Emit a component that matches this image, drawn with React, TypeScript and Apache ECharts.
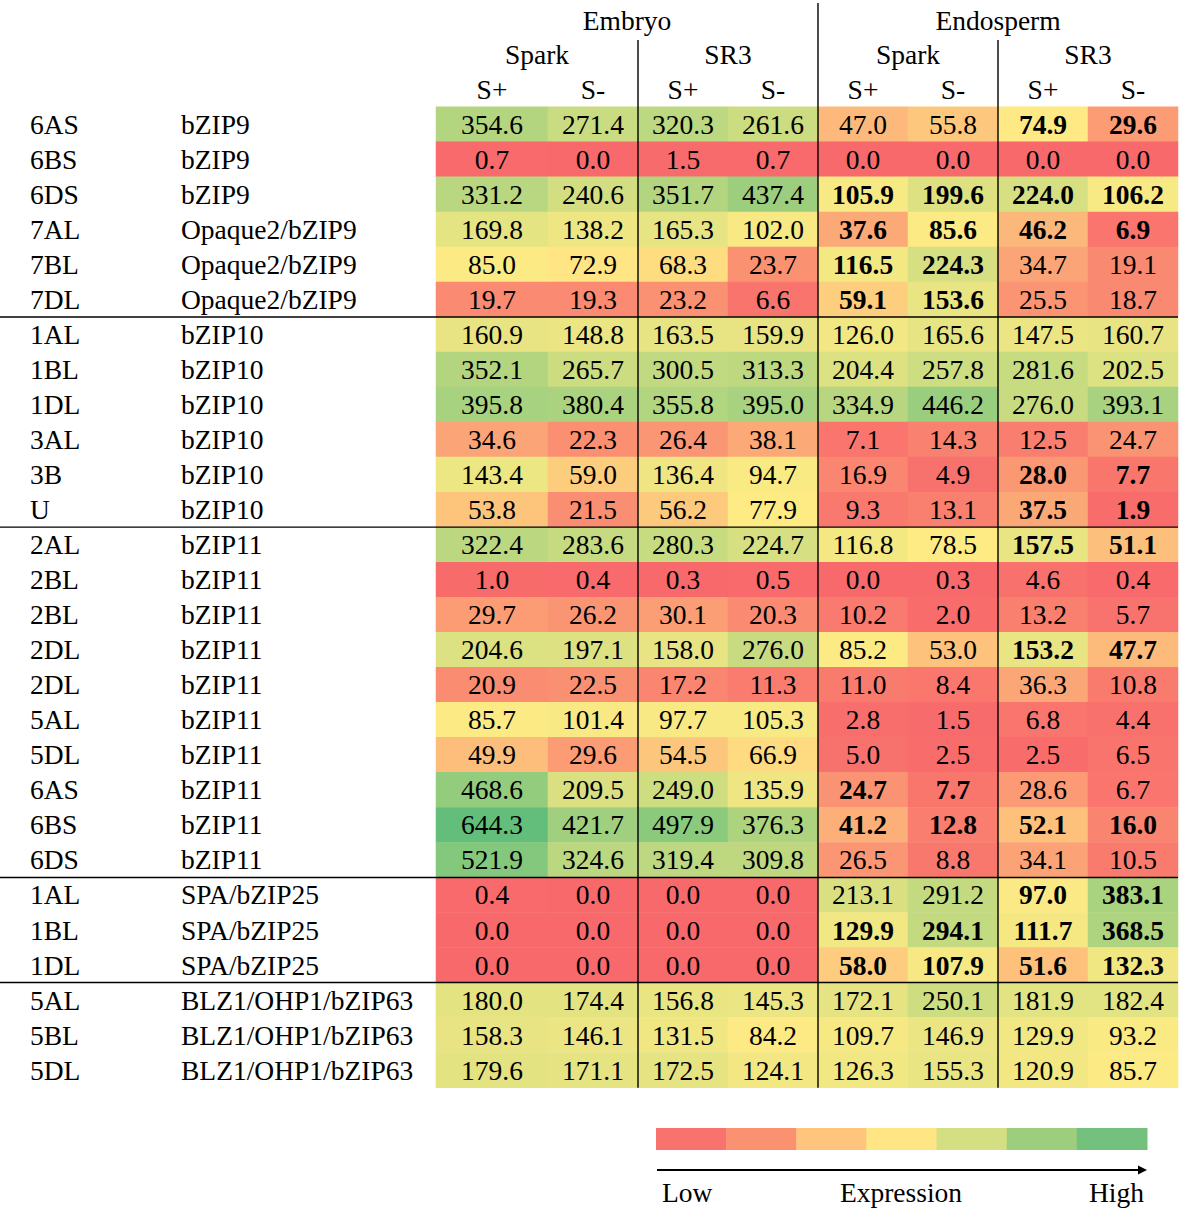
import React, { useEffect, useRef } from "react";
import * as echarts from "echarts";

const chromosomes = [
  "6AS", "6BS", "6DS", "7AL", "7BL", "7DL",
  "1AL", "1BL", "1DL", "3AL", "3B", "U",
  "2AL", "2BL", "2BL", "2DL", "2DL", "5AL", "5DL", "6AS", "6BS", "6DS",
  "1AL", "1BL", "1DL",
  "5AL", "5BL", "5DL",
];
const genes = [
  "bZIP9", "bZIP9", "bZIP9", "Opaque2/bZIP9", "Opaque2/bZIP9", "Opaque2/bZIP9",
  "bZIP10", "bZIP10", "bZIP10", "bZIP10", "bZIP10", "bZIP10",
  "bZIP11", "bZIP11", "bZIP11", "bZIP11", "bZIP11", "bZIP11", "bZIP11", "bZIP11", "bZIP11", "bZIP11",
  "SPA/bZIP25", "SPA/bZIP25", "SPA/bZIP25",
  "BLZ1/OHP1/bZIP63", "BLZ1/OHP1/bZIP63", "BLZ1/OHP1/bZIP63",
];
const tissues = ["Embryo", "Endosperm"];
const cultivars = ["Spark", "SR3", "Spark", "SR3"];
const treatments = ["S+", "S-", "S+", "S-", "S+", "S-", "S+", "S-"];

const expression: number[][] = [
  [354.6, 271.4, 320.3, 261.6, 47.0, 55.8, 74.9, 29.6],
  [0.7, 0.0, 1.5, 0.7, 0.0, 0.0, 0.0, 0.0],
  [331.2, 240.6, 351.7, 437.4, 105.9, 199.6, 224.0, 106.2],
  [169.8, 138.2, 165.3, 102.0, 37.6, 85.6, 46.2, 6.9],
  [85.0, 72.9, 68.3, 23.7, 116.5, 224.3, 34.7, 19.1],
  [19.7, 19.3, 23.2, 6.6, 59.1, 153.6, 25.5, 18.7],
  [160.9, 148.8, 163.5, 159.9, 126.0, 165.6, 147.5, 160.7],
  [352.1, 265.7, 300.5, 313.3, 204.4, 257.8, 281.6, 202.5],
  [395.8, 380.4, 355.8, 395.0, 334.9, 446.2, 276.0, 393.1],
  [34.6, 22.3, 26.4, 38.1, 7.1, 14.3, 12.5, 24.7],
  [143.4, 59.0, 136.4, 94.7, 16.9, 4.9, 28.0, 7.7],
  [53.8, 21.5, 56.2, 77.9, 9.3, 13.1, 37.5, 1.9],
  [322.4, 283.6, 280.3, 224.7, 116.8, 78.5, 157.5, 51.1],
  [1.0, 0.4, 0.3, 0.5, 0.0, 0.3, 4.6, 0.4],
  [29.7, 26.2, 30.1, 20.3, 10.2, 2.0, 13.2, 5.7],
  [204.6, 197.1, 158.0, 276.0, 85.2, 53.0, 153.2, 47.7],
  [20.9, 22.5, 17.2, 11.3, 11.0, 8.4, 36.3, 10.8],
  [85.7, 101.4, 97.7, 105.3, 2.8, 1.5, 6.8, 4.4],
  [49.9, 29.6, 54.5, 66.9, 5.0, 2.5, 2.5, 6.5],
  [468.6, 209.5, 249.0, 135.9, 24.7, 7.7, 28.6, 6.7],
  [644.3, 421.7, 497.9, 376.3, 41.2, 12.8, 52.1, 16.0],
  [521.9, 324.6, 319.4, 309.8, 26.5, 8.8, 34.1, 10.5],
  [0.4, 0.0, 0.0, 0.0, 213.1, 291.2, 97.0, 383.1],
  [0.0, 0.0, 0.0, 0.0, 129.9, 294.1, 111.7, 368.5],
  [0.0, 0.0, 0.0, 0.0, 58.0, 107.9, 51.6, 132.3],
  [180.0, 174.4, 156.8, 145.3, 172.1, 250.1, 181.9, 182.4],
  [158.3, 146.1, 131.5, 84.2, 109.7, 146.9, 129.9, 93.2],
  [179.6, 171.1, 172.5, 124.1, 126.3, 155.3, 120.9, 85.7],
];

// "1" marks a value printed in bold
const boldCells = [
  "00000011", "00000000", "00001111", "00001111", "00001100", "00001100",
  "00000000", "00000000", "00000000", "00000000", "00000011", "00000011",
  "00000011", "00000000", "00000000", "00000011", "00000000", "00000000",
  "00000000", "00001100", "00001111", "00000000",
  "00000011", "00001111", "00001111",
  "00000000", "00000000", "00000000",
];

// number of rows in each gene group (separators drawn between groups)
const groupSizes = [6, 6, 10, 3, 3];

// 3-colour scale: low / midpoint (median) / high
const scaleColors = ["#F8696B", "#FFEB84", "#63BE7B"];
const legendColors = ["#F8736E", "#FA9272", "#FFC57C", "#FFE584", "#D3DF82", "#9CCE7E", "#73C17C"];
const legendTexts = ["Low", "Expression", "High"];

const FONT = "'Liberation Serif', 'Times New Roman', serif";
const FS = 27.5;

function hexToRgb(h: string) {
  const n = parseInt(h.slice(1), 16);
  return [(n >> 16) & 255, (n >> 8) & 255, n & 255];
}
function lerpColor(a: string, b: string, t: number) {
  const ca = hexToRgb(a);
  const cb = hexToRgb(b);
  const c = ca.map((v, i) => Math.round(v + (cb[i] - v) * t));
  return `rgb(${c[0]},${c[1]},${c[2]})`;
}

export default function App() {
  const ref = useRef<HTMLDivElement>(null);

  useEffect(() => {
    if (!ref.current) return;
    const chart = echarts.init(ref.current, undefined, { renderer: "svg" });

    const nRows = chromosomes.length;
    const all = expression.flat().slice().sort((a, b) => a - b);
    const minV = all[0];
    const maxV = all[all.length - 1];
    const mid = all.length % 2 === 0
      ? (all[all.length / 2 - 1] + all[all.length / 2]) / 2
      : all[(all.length - 1) / 2];
    const N = 256;
    const palette: string[] = [];
    for (let i = 0; i < N; i++) {
      const v = minV + ((maxV - minV) * i) / (N - 1);
      if (v <= mid) palette.push(lerpColor(scaleColors[0], scaleColors[1], (v - minV) / (mid - minV)));
      else palette.push(lerpColor(scaleColors[1], scaleColors[2], (v - mid) / (maxV - mid)));
    }

    // layout
    const tableLeft = 436;
    const firstColW = 112;
    const colW = 90;
    const tableTop = 106.8;
    const rowH = 35.03;
    const tableH = rowH * nRows;
    const colEdge = (c: number) => (c === 0 ? tableLeft : tableLeft + firstColW + (c - 1) * colW);
    const tableRight = colEdge(treatments.length);

    const cellLabel = (bold: boolean) => ({
      show: true,
      fontFamily: FONT,
      fontSize: FS,
      color: "#000",
      fontWeight: bold ? "bold" : "normal",
      formatter: (p: any) => Number(p.value[2]).toFixed(1),
    });

    const dataFor = (cols: number[], offset: number) => {
      const out: any[] = [];
      expression.forEach((row, r) => {
        cols.forEach((c) => {
          out.push({ value: [c - offset, r, row[c]], label: cellLabel(boldCells[r][c] === "1") });
        });
      });
      return out;
    };

    const rowIds = chromosomes.map((_, i) => String(i));

    const graphics: any[] = [];
    // horizontal group separators
    let acc = 0;
    groupSizes.slice(0, -1).forEach((g) => {
      acc += g;
      const y = tableTop + acc * rowH;
      graphics.push({
        type: "line",
        shape: { x1: 0, y1: y, x2: tableRight, y2: y },
        style: { stroke: "#000", lineWidth: 1.4 },
        z: 100,
      });
    });
    // vertical separators
    [2, 4, 6].forEach((c) => {
      const x = colEdge(c);
      graphics.push({
        type: "line",
        shape: { x1: x, y1: c === 4 ? 3 : 40, x2: x, y2: tableTop + tableH },
        style: { stroke: "#000", lineWidth: 1.4 },
        z: 100,
      });
    });
    // tissue headers
    tissues.forEach((t, i) => {
      const x = (colEdge(i * 4) + colEdge(i * 4 + 4)) / 2;
      graphics.push({
        type: "text",
        x, y: 20,
        style: { text: t, font: `${FS}px ${FONT}`, fill: "#000", align: "center", verticalAlign: "middle" },
      });
    });
    // cultivar headers
    cultivars.forEach((t, i) => {
      const x = (colEdge(i * 2) + colEdge(i * 2 + 2)) / 2;
      graphics.push({
        type: "text",
        x, y: 54,
        style: { text: t, font: `${FS}px ${FONT}`, fill: "#000", align: "center", verticalAlign: "middle" },
      });
    });
    // legend colour blocks
    const legX = 656;
    const legW = 491;
    const bw = legW / legendColors.length;
    legendColors.forEach((c, i) => {
      graphics.push({
        type: "rect",
        shape: { x: legX + i * bw, y: 1128, width: bw + 0.5, height: 22 },
        style: { fill: c },
      });
    });
    graphics.push({
      type: "line",
      shape: { x1: legX + 1, y1: 1170, x2: legX + legW - 6, y2: 1170 },
      style: { stroke: "#000", lineWidth: 2 },
    });
    graphics.push({
      type: "polygon",
      shape: { points: [[legX + legW - 9, 1165.5], [legX + legW, 1170], [legX + legW - 9, 1174.5]] },
      style: { fill: "#000" },
    });
    graphics.push({
      type: "text", x: legX + 6, y: 1192,
      style: { text: legendTexts[0], font: `${FS}px ${FONT}`, fill: "#000", align: "left", verticalAlign: "middle" },
    });
    graphics.push({
      type: "text", x: 901, y: 1192,
      style: { text: legendTexts[1], font: `${FS}px ${FONT}`, fill: "#000", align: "center", verticalAlign: "middle" },
    });
    graphics.push({
      type: "text", x: legX + legW - 3, y: 1192,
      style: { text: legendTexts[2], font: `${FS}px ${FONT}`, fill: "#000", align: "right", verticalAlign: "middle" },
    });

    const xAxisCommon = {
      type: "category",
      position: "top",
      axisLine: { show: false },
      axisTick: { show: false },
      splitLine: { show: false },
      axisLabel: { interval: 0, fontFamily: FONT, fontSize: FS, color: "#000", margin: 3 },
    };

    chart.setOption({
      animation: false,
      backgroundColor: "#fff",
      grid: [
        { left: colEdge(0), top: tableTop, width: firstColW, height: tableH },
        { left: colEdge(1), top: tableTop, width: colW * (treatments.length - 1), height: tableH },
      ],
      xAxis: [
        { ...xAxisCommon, gridIndex: 0, data: treatments.slice(0, 1) },
        { ...xAxisCommon, gridIndex: 1, data: treatments.slice(1) },
      ],
      yAxis: [
        {
          type: "category",
          gridIndex: 0,
          data: rowIds,
          inverse: true,
          axisLine: { show: false },
          axisTick: { show: false },
          splitLine: { show: false },
          axisLabel: {
            interval: 0,
            align: "left",
            margin: colEdge(0) - 30,
            formatter: (_v: string, i: number) => `{a|${chromosomes[i]}}{b|${genes[i]}}`,
            rich: {
              a: { width: 151, fontFamily: FONT, fontSize: FS, color: "#000", align: "left" },
              b: { fontFamily: FONT, fontSize: FS, color: "#000", align: "left" },
            },
          },
        },
        {
          type: "category",
          gridIndex: 1,
          data: rowIds,
          inverse: true,
          show: false,
        },
      ],
      visualMap: {
        type: "continuous",
        show: false,
        min: minV,
        max: maxV,
        dimension: 2,
        seriesIndex: [0, 1],
        inRange: { color: palette },
      },
      series: [
        {
          type: "heatmap",
          xAxisIndex: 0,
          yAxisIndex: 0,
          data: dataFor([0], 0),
          itemStyle: { borderWidth: 0 },
          emphasis: { disabled: true },
        },
        {
          type: "heatmap",
          xAxisIndex: 1,
          yAxisIndex: 1,
          data: dataFor([1, 2, 3, 4, 5, 6, 7], 1),
          itemStyle: { borderWidth: 0 },
          emphasis: { disabled: true },
        },
      ],
      graphic: graphics,
    });

    return () => chart.dispose();
  }, []);

  return (
    <div
      ref={ref}
      style={{ position: "absolute", left: 0, top: 0, width: 1181, height: 1209, background: "#fff" }}
    />
  );
}
